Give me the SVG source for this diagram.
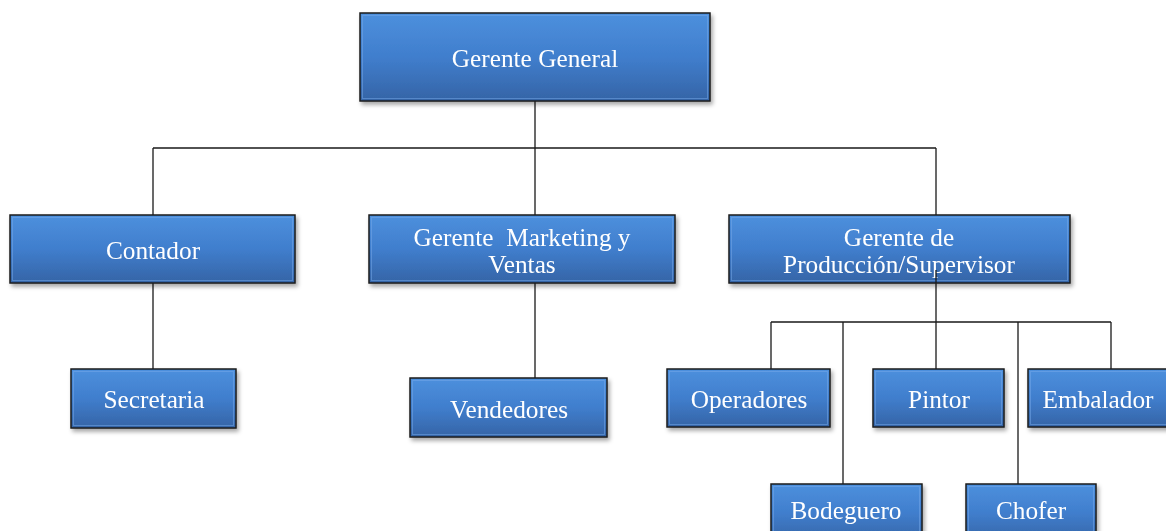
<svg xmlns="http://www.w3.org/2000/svg" width="1166" height="531" viewBox="0 0 1166 531">
<style>
.box{fill:url(#g);stroke:#1c1c1c;stroke-width:1.5}
.hl{fill:none;stroke:#78aaea;stroke-width:1;opacity:0.5}
.t{font-family:"Liberation Serif","Times New Roman",serif;font-size:25.3px;fill:#ffffff;text-anchor:middle}
.c{fill:none;stroke:#1a1a1a;stroke-width:1.3}
</style>
<defs>
<linearGradient id="g" x1="0" y1="0" x2="0" y2="1">
<stop offset="0" stop-color="#4d90dd"/>
<stop offset="0.5" stop-color="#407ecd"/>
<stop offset="1" stop-color="#3564a6"/>
</linearGradient>
<filter id="sh" x="-10%" y="-10%" width="120%" height="130%">
<feDropShadow dx="2" dy="3" stdDeviation="2" flood-color="#000" flood-opacity="0.35"/>
</filter>
</defs>
<g id="connectors">
<path class="c" d="M535 101V148M153 148H936M153 148V215M535 148V215M936 148V215"/>
<path class="c" d="M153 283V369M535 283V378"/>
<path class="c" d="M936 270V322M771 322H1111M771 322V369M843 322V484M936 322V369M1018 322V484M1111 322V369"/>
</g>
<g id="gerente-general" filter="url(#sh)"><rect class="box" x="360" y="13" width="350" height="88"/><rect class="hl" x="362.5" y="15.5" width="345" height="83"/><text class="t" x="535" y="67">Gerente General</text></g>
<g id="contador" filter="url(#sh)"><rect class="box" x="10" y="215" width="285" height="68"/><rect class="hl" x="12.5" y="217.5" width="280" height="63"/><text class="t" x="153" y="259">Contador</text></g>
<g id="marketing" filter="url(#sh)"><rect class="box" x="369" y="215" width="306" height="68"/><rect class="hl" x="371.5" y="217.5" width="301" height="63"/><text class="t" x="522" y="246" xml:space="preserve">Gerente  Marketing y</text><text class="t" x="522" y="273">Ventas</text></g>
<g id="produccion" filter="url(#sh)"><rect class="box" x="729" y="215" width="341" height="68"/><rect class="hl" x="731.5" y="217.5" width="336" height="63"/><text class="t" x="899" y="246">Gerente de</text><text class="t" x="899" y="273">Producción/Supervisor</text></g>
<path class="c" d="M936 270V283"/>
<g id="secretaria" filter="url(#sh)"><rect class="box" x="71" y="369" width="165" height="59"/><rect class="hl" x="73.5" y="371.5" width="160" height="54"/><text class="t" x="154" y="408">Secretaria</text></g>
<g id="vendedores" filter="url(#sh)"><rect class="box" x="410" y="378" width="197" height="59"/><rect class="hl" x="412.5" y="380.5" width="192" height="54"/><text class="t" x="509" y="418">Vendedores</text></g>
<g id="operadores" filter="url(#sh)"><rect class="box" x="667" y="369" width="163" height="58"/><rect class="hl" x="669.5" y="371.5" width="158" height="53"/><text class="t" x="749" y="408">Operadores</text></g>
<g id="pintor" filter="url(#sh)"><rect class="box" x="873" y="369" width="131" height="58"/><rect class="hl" x="875.5" y="371.5" width="126" height="53"/><text class="t" x="939" y="408">Pintor</text></g>
<g id="embalador" filter="url(#sh)"><rect class="box" x="1028" y="369" width="145" height="58"/><rect class="hl" x="1030.5" y="371.5" width="140" height="53"/><text class="t" x="1098" y="408">Embalador</text></g>
<g id="bodeguero" filter="url(#sh)"><rect class="box" x="771" y="484" width="151" height="58"/><rect class="hl" x="773.5" y="486.5" width="146" height="53"/><text class="t" x="846" y="519">Bodeguero</text></g>
<g id="chofer" filter="url(#sh)"><rect class="box" x="966" y="484" width="130" height="58"/><rect class="hl" x="968.5" y="486.5" width="125" height="53"/><text class="t" x="1031" y="519">Chofer</text></g>
</svg>
